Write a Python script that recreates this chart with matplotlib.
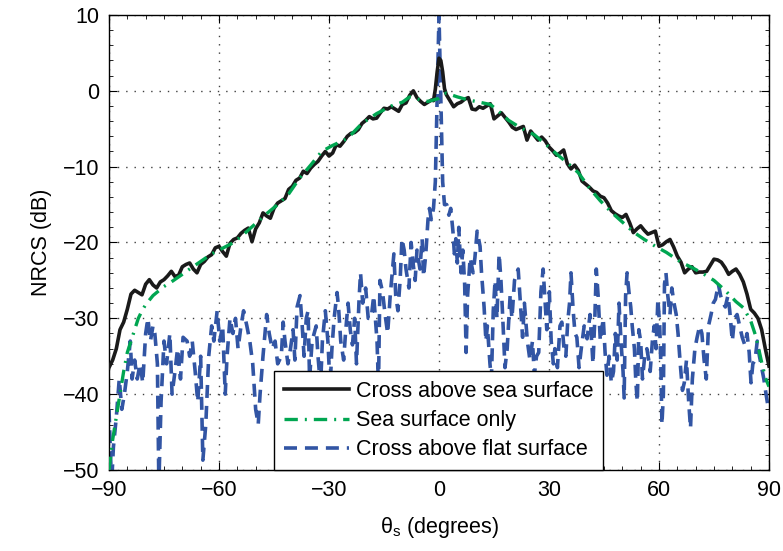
import matplotlib
matplotlib.use('Agg')
import matplotlib.pyplot as plt
from matplotlib.ticker import MultipleLocator

plt.rcParams['font.family'] = ['Liberation Sans', 'DejaVu Sans']
plt.rcParams['mathtext.fontset'] = 'custom'
plt.rcParams['mathtext.rm'] = 'Liberation Sans'
plt.rcParams['axes.unicode_minus'] = True

# cross above sea surface (black)
cross_sea_x = [-90, -89, -88, -87, -86, -85, -84, -83, -82, -81, -80, -79, -78, -77, -76, -75,
               -74, -73, -72, -71, -70, -69, -68, -67, -66, -65, -64, -63, -62, -61, -60, -59,
               -58, -57, -56, -55, -54, -53, -52, -51, -50, -49, -48, -47, -46, -45, -44, -43,
               -42, -41, -40, -39, -38, -37, -36, -35, -34, -33, -32, -31, -30, -29, -28, -27,
               -26, -25, -24, -23, -22, -21, -20, -19, -18, -17, -16, -15, -14, -13, -12, -11,
               -10, -9, -8, -7, -6, -5, -4, -3, -2, -1.5, -1, -0.5, 0, 0.5, 1, 1.5, 2, 3, 4, 5,
               6, 7, 8, 9, 10, 11, 12, 13, 14, 15, 16, 17, 18, 19, 20, 21, 22, 23, 24, 25, 26,
               27, 28, 29, 30, 31, 32, 33, 34, 35, 36, 37, 38, 39, 40, 41, 42, 43, 44, 45, 46,
               47, 48, 49, 50, 51, 52, 53, 54, 55, 56, 57, 58, 59, 60, 61, 62, 63, 64, 65, 66,
               67, 68, 69, 70, 71, 72, 73, 74, 75, 76, 77, 78, 79, 80, 81, 82, 83, 84, 85, 86,
               87, 88, 89, 90]
cross_sea_y = [-36.5, -35.5, -34.0, -31.5, -30.5, -28.8, -26.8, -26.3, -26.6, -26.9, -25.5, -24.9,
               -25.6, -26.0, -25.2, -24.9, -24.4, -23.8, -24.5, -24.3, -23.2, -22.9, -22.7, -23.5,
               -24.0, -22.9, -22.5, -21.9, -21.6, -20.7, -20.5, -21.2, -21.8, -20.1, -19.6, -19.4,
               -18.8, -18.4, -18.1, -19.9, -18.2, -17.4, -16.1, -16.5, -16.8, -15.5, -14.8, -14.5,
               -14.2, -13.0, -12.6, -11.8, -11.5, -10.6, -10.9, -10.2, -9.7, -9.3, -8.6, -8.0,
               -8.6, -8.2, -7.1, -7.3, -6.7, -6.0, -5.6, -5.5, -5.1, -4.3, -3.9, -3.4, -3.7, -3.6,
               -2.9, -2.3, -2.4, -2.1, -2.4, -2.7, -1.8, -1.6, -0.6, 0.0, -0.9, -1.4, -1.8, -1.5,
               -1.2, -1.3, 0.2, 2.5, 4.3, 4.0, 2.5, 0.3, -0.5, -1.3, -2.1, -1.7, -1.5, -1.1, -0.9,
               -2.4, -2.5, -2.1, -2.3, -2.0, -1.7, -3.7, -3.3, -2.9, -3.5, -4.1, -4.8, -5.1, -4.9,
               -4.7, -6.5, -5.3, -5.9, -6.5, -6.1, -6.6, -7.4, -7.9, -8.5, -8.2, -7.8, -9.6,
               -10.3, -9.8, -10.5, -11.9, -12.3, -12.7, -13.2, -13.4, -13.9, -14.1, -14.8, -15.8,
               -16.2, -16.5, -16.7, -16.3, -17.4, -18.7, -18.2, -17.8, -18.4, -18.9, -18.7, -18.5,
               -20.5, -20.3, -19.9, -19.6, -20.6, -21.8, -22.6, -24.0, -23.5, -23.2, -24.0, -23.9,
               -23.9, -23.8, -23.0, -22.2, -22.3, -22.6, -23.3, -24.2, -23.8, -23.5, -24.2, -25.2,
               -26.8, -28.8, -29.3, -30.0, -31.5, -34.0, -36.3]

# sea surface only (green)
sea_x = [-90, -89, -88, -87, -86, -85, -84, -83, -82, -81, -80, -78, -75, -73, -70, -68, -65,
         -62, -60, -56, -53, -50, -47, -44, -41, -38, -35, -32, -29, -25, -21, -17, -13, -10,
         -8, -5, -3, 0, 2, 5, 8, 11, 14, 17, 19, 22, 26, 29, 32, 35, 38, 41, 44, 47, 50, 53,
         56, 59, 62, 66, 69, 72, 75, 78, 81, 83, 85, 86.5, 88, 89, 90]
sea_y = [-50.0, -46.0, -43.0, -40.0, -37.0, -34.5, -33.0, -31.5, -30.0, -29.0, -28.2, -27.0,
         -25.8, -25.2, -24.2, -23.5, -22.5, -21.5, -21.0, -20.0, -18.8, -17.5, -16.2, -15.0,
         -13.6, -11.5, -9.8, -8.0, -7.2, -6.3, -4.3, -3.0, -2.0, -1.5, -0.8, -1.2, -1.4, -1.0,
         -0.3, -0.8, -1.2, -1.5, -1.8, -3.0, -3.9, -4.8, -5.8, -7.0, -8.3, -9.5, -10.8, -12.8,
         -14.5, -16.0, -17.3, -18.6, -19.6, -20.5, -21.3, -22.6, -23.3, -24.1, -25.0, -26.3,
         -27.8, -28.6, -30.3, -32.5, -35.8, -37.8, -39.0]

# cross above flat surface (blue)
flat_x = [-90, -89.3, -88.8, -88, -87.2, -86.5, -85.8, -85, -84.2, -83.7, -83, -82.3, -81.5,
          -80.8, -80, -79.4, -78.7, -78, -77.5, -76.8, -76.4, -75.8, -75, -74.3, -73.4, -72.8,
          -72, -71.3, -70.5, -69.8, -68.7, -68, -67.3, -66.5, -65.8, -65, -64.4, -63.6, -62.8,
          -62, -61.4, -60.5, -59.8, -59, -58.3, -57.8, -57, -56.2, -55.5, -54.8, -54, -53.3,
          -52.4, -51.6, -50.8, -50, -49.3, -48.8, -48, -47, -46.3, -45.5,
          -44.7, -44, -43, -42.5, -42, -41.2, -40.5, -39.8, -39.3, -38.7, -37.9, -37.3, -36.8,
          -36.2, -35.7, -35.3, -34.6, -33.5, -33, -32.3, -31.8, -31, -30.3, -29.7, -29.2, -28.6,
          -27.8, -27.4, -26.8, -26, -25.5, -24.8, -24.2, -23.6, -23, -22.5, -21.8, -21.4, -20.8,
          -20, -19.3, -18.5, -17.8, -16.9, -16.5, -16.1, -15.4, -14.7, -14, -13.3, -12.3, -11.8,
          -11.2, -10.6, -10.1, -9.5, -9, -8.2, -7.6, -7, -6.5, -6, -5.2, -4.6, -4.2, -3.6, -3,
          -2.6, -2.1, -1.5, -1, 0, 1, 1.5,
          2.1, 2.7, 3.2, 3.8, 4.2, 4.6, 5.0, 5.4, 6.0, 6.5, 7.0, 7.4, 7.8, 8.5, 9.3, 9.8, 10.4,
          11.2, 11.6, 12.3, 12.8, 13.2, 13.9, 14.3, 14.8, 15.3, 15.8, 16.4, 16.9, 17.3, 18,
          18.6, 19.4, 19.9, 20.6, 21.6, 22.2, 22.8, 23.3, 24.1, 24.8, 25.5, 26, 26.6, 27.2,
          27.8, 28.4, 28.9, 29.4, 30.1, 30.6, 31.2, 31.6, 32.3, 33, 33.5, 34.1, 34.6, 35.1,
          35.6, 36, 36.6, 37.1, 37.6, 38.2, 38.8, 39.6, 40.4, 41.2, 42, 42.5, 42.9, 43.4, 44,
          44.8, 45.3, 45.8,
          46.4, 47, 47.6, 48.1, 48.6, 49.1, 49.7, 50.2, 50.5, 50.9, 51.3, 51.8, 52.3, 52.7,
          53.3, 53.7, 54.1, 54.5, 55, 55.5, 56.1, 56.7, 57.2, 57.6, 58.2, 58.7, 59.2, 59.7,
          60.2, 60.5, 60.8, 61.2, 61.5, 61.9, 62.4, 63, 63.5, 64.1, 64.7, 65.2, 65.8, 66.4,
          66.9, 67.5, 68.1, 68.6, 69.1, 69.8, 70.4, 71.1, 71.7, 72.3, 72.9, 73.5, 74.2, 74.8,
          75.4, 76.2, 76.8, 77.5, 78.1, 78.8, 79.3, 80, 80.6, 81.3, 82, 82.7, 83.4, 84, 84.6,
          85.1, 85.6, 86.2, 86.8, 87.4, 88, 88.6, 89.2, 89.7]
flat_y = [-42, -52, -47, -43, -38, -42, -40, -37, -33, -38, -35.5, -38, -36, -38.5, -32, -30,
          -33, -31, -32, -36, -52, -41, -33, -36, -32, -40, -37, -34, -38, -32.5, -33, -35, -33,
          -37, -41, -35, -48.7, -44, -35, -31, -33, -29, -33, -31, -40, -35, -30, -32, -30, -34,
          -31, -29, -31, -33, -36, -42, -44, -40, -35, -29.5, -32, -34,
          -33, -36, -35, -30.5, -33, -36, -34, -31.5, -35.5, -28.5, -27, -31, -35, -30, -29,
          -38, -33, -31, -35, -39, -33, -29, -33, -39, -34, -30, -26.6, -28.5, -33, -35.5, -32,
          -28, -31.5, -33.5, -30, -36, -27.5, -24, -28, -26, -30, -30, -27, -33, -39, -25,
          -26.5, -29.5, -32, -27, -21.5, -27, -29, -25, -19.5, -21, -23.5, -26, -20, -23, -25,
          -21, -23.5, -19.5, -24.5, -21.5, -17, -15.5, -17, -15.5, -12, 10, -12, -15,
          -15, -16.4, -15.5, -18.5, -21.5, -19.5, -22.7, -18, -24, -21, -25.5, -34.5, -27, -22,
          -24, -22, -18.5, -20.5, -24, -28.5, -33, -31, -36, -38, -29, -25, -30, -21.5, -25,
          -29, -36.5, -34, -27, -30, -25, -23.5, -28, -32.5, -28, -33, -35.5, -33, -37.5, -35,
          -34.5, -26.5, -23.5, -27.5, -31.5, -26.5, -33, -36, -34, -36.5, -31, -30.5, -34, -35,
          -30.5, -28, -24, -29, -32, -32.5, -36.5, -34, -31, -32.7, -29.5, -36, -30, -23.5, -27,
          -33, -30, -34.5, -37.5,
          -35, -38.5, -37, -32, -35.5, -28, -33.5, -37, -40.5, -27, -24, -26.5, -28.5, -31, -34,
          -38.5, -41, -31.5, -33, -38, -35, -34, -35.5, -37, -33, -31, -34, -27.5, -31, -36, -44,
          -40, -25.5, -24, -27, -29.5, -26, -28, -29.5, -32, -36, -39.5, -38.5, -35.5, -41,
          -44.5, -38, -34, -32.5, -31, -32, -35.5, -38, -31, -29.5, -28, -27.5, -25.5, -27, -28,
          -28.5, -27, -29, -33, -30, -29.5, -31, -32.5, -33.5, -32, -34.5, -38.5, -36, -35.5,
          -33, -35, -36.5, -38, -40, -41.5]

fig = plt.figure(figsize=(7.83, 5.51), dpi=100)
ax = fig.add_axes([0.1392, 0.147, 0.8429, 0.8258])

ax.plot(cross_sea_x, cross_sea_y, color='#1a1a1a', lw=2.6,
        label='Cross above sea surface', zorder=3)
ax.plot(sea_x, sea_y, color='#00a651', lw=2.4, dashes=(4.0, 2.1, 0.6, 2.1),
        label='Sea surface only', zorder=4)
ax.plot(flat_x, flat_y, color='#3255a4', lw=2.6, dashes=(3.6, 2.2),
        label='Cross above flat surface', zorder=2)

ax.set_xlim(-90, 90)
ax.set_ylim(-50, 10)
ax.set_xticks(range(-90, 91, 30))
ax.set_yticks(range(-50, 11, 10))
ax.xaxis.set_minor_locator(MultipleLocator(5))
ax.yaxis.set_minor_locator(MultipleLocator(2))
ax.tick_params(which='both', direction='in', top=True, right=True, labelsize=15.5, pad=7)
ax.tick_params(which='major', length=6, width=0.8)
ax.tick_params(which='minor', length=3, width=0.6)
ax.grid(True, which='major', color='0.25', linestyle=(0, (1, 5)), lw=1.0)
for s in ax.spines.values():
    s.set_linewidth(1.0)

ax.set_xlabel(r'$\mathrm{θ_s}$ (degrees)', fontsize=15.5, labelpad=10)
ax.set_ylabel('NRCS (dB)', fontsize=15.5, labelpad=8)

leg = ax.legend(loc='lower center', bbox_to_anchor=(0.5, 0.0), borderaxespad=0,
                fontsize=15.5, frameon=True, fancybox=False, edgecolor='black',
                framealpha=1, handlelength=3.0, handletextpad=0.35, labelspacing=0.38,
                borderpad=0.45)
leg.get_frame().set_linewidth(1.0)

fig.savefig('out.png', dpi=100)
